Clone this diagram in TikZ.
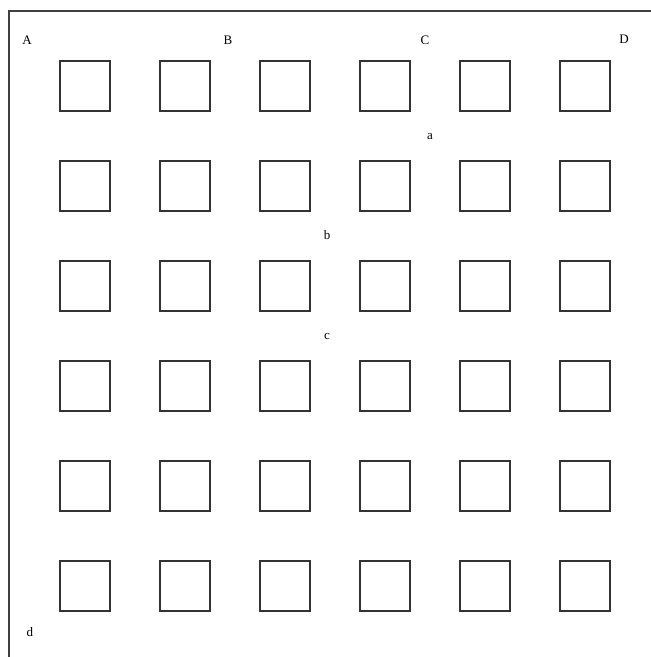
\documentclass[tikz,border=0pt]{standalone}
\usepackage{fontspec}
\setmainfont{Liberation Serif}
\begin{document}
\begin{tikzpicture}[x=1pt,y=-1pt,
  cell/.style={draw=black!80,line width=1.2pt,minimum size=50pt,inner sep=0pt,outer sep=0pt},
  lbl/.style={inner sep=0pt,font=\fontsize{13}{15}\selectfont},
  frame/.style={draw=black!75,line width=1.4pt}]
\useasboundingbox (0,0) rectangle (651,657);
\coordinate (tl) at (9,11);
\coordinate (tr) at (651,11);
\coordinate (bl) at (9,657);
\draw[frame] (tr) -- (tl) -- (bl);
\foreach \r in {0,...,5}{
  \foreach \c in {0,...,5}{
    \node[cell] (s\r\c) at (85+100*\c,86+100*\r) {};
  }
}
\node[lbl] (A) at (27,40) {A};
\node[lbl] (B) at (228,40) {B};
\node[lbl] (C) at (425,40) {C};
\node[lbl] (D) at (624,39) {D};
\node[lbl] (a) at (430,137) {a};
\node[lbl] (b) at (327,235) {b};
\node[lbl] (c) at (327,336) {c};
\node[lbl] (d) at (30,632) {d};
\end{tikzpicture}
\end{document}
